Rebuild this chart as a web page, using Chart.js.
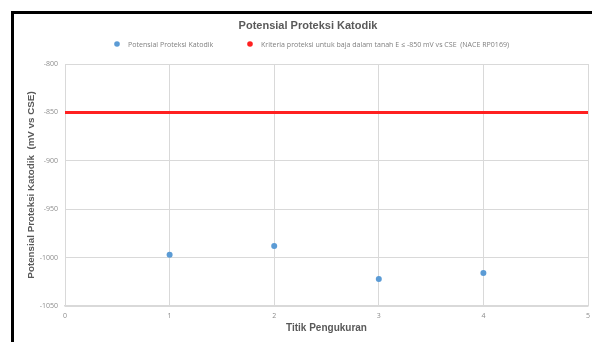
<!DOCTYPE html>
<html>
<head>
<meta charset="utf-8">
<script src="https://cdn.jsdelivr.net/npm/chart.js@4/dist/chart.umd.min.js"></script>
<style>
  html, body { margin: 0; padding: 0; background: #fff; overflow: hidden; }
  #wrap { position: relative; width: 592px; height: 342px; }
  #frame { position: absolute; left: 11px; top: 11px; width: 700px; height: 400px;
           border-left: 3px solid #000; border-top: 3px solid #000; pointer-events: none; }
  canvas { position: absolute; left: 0; top: 0; }
</style>
</head>
<body>
<div id="wrap">
  <canvas id="c" width="592" height="342"></canvas>
  <div id="frame"></div>
</div>
<script>
// Measurement points and measured potentials (mV vs CSE)
const titik = [1, 2, 3, 4];
const potensial = [-997, -988, -1022, -1016];

// Protection criterion line (NACE RP0169)
const kriteriaX = [0, 5];
const kriteriaY = [-850, -850];

// Axis ranges / tick steps
const xRange = [0, 5];
const yRange = [-1050, -800];
const yStep = 50;

const chartTitle = 'Potensial Proteksi Katodik';
const seriesLabels = [
  'Potensial Proteksi Katodik',
  'Kriteria proteksi untuk baja dalam tanah E \u2264 -850 mV vs CSE  (NACE RP0169)'
];
const xTitle = 'Titik Pengukuran';
const yTitle = 'Potensial Proteksi Katodik  (mV vs CSE)';

const colBlue = '#5b9bd5';
const colRed = '#ff2020';
const gray = '#595959';

const pointData = titik.map((x, i) => ({ x, y: potensial[i] }));
const lineData = kriteriaX.map((x, i) => ({ x, y: kriteriaY[i] }));

// Title and legend drawn at fixed spots above the plot
const headerPlugin = {
  id: 'header',
  afterDraw(chart) {
    const ctx = chart.ctx;
    ctx.save();
    ctx.fillStyle = gray;
    ctx.font = 'bold 11px "Liberation Sans", Arial, sans-serif';
    ctx.textAlign = 'center';
    ctx.textBaseline = 'middle';
    ctx.fillText(chartTitle, 308, 26);

    // legend
    const fam = '"Open Sans", sans-serif';
    ctx.font = '7px ' + fam;
    const w2raw = ctx.measureText(seriesLabels[1]).width;
    const fs = 7 * 248 / w2raw;
    ctx.font = fs.toFixed(2) + 'px ' + fam;
    ctx.textAlign = 'left';
    const y = 44;
    const colors = [colBlue, colRed];
    const dots = [117, 250];
    chart.data.datasets.forEach((ds, i) => {
      ctx.beginPath();
      ctx.fillStyle = colors[i];
      ctx.arc(dots[i], y, 2.8, 0, Math.PI * 2);
      ctx.fill();
      ctx.fillStyle = '#7f7f7f';
      ctx.fillText(ds.label, dots[i] + 11, y + 0.5);
    });
    ctx.restore();
  }
};

new Chart(document.getElementById('c'), {
  type: 'scatter',
  data: {
    datasets: [
      {
        label: seriesLabels[0],
        data: pointData,
        backgroundColor: colBlue,
        borderColor: colBlue,
        pointRadius: 3,
        pointBorderWidth: 0,
        showLine: false,
        order: 1
      },
      {
        label: seriesLabels[1],
        data: lineData,
        borderColor: colRed,
        backgroundColor: colRed,
        borderWidth: 3,
        pointRadius: 0,
        showLine: true,
        order: 2
      }
    ]
  },
  options: {
    responsive: false,
    animation: false,
    events: [],
    layout: { padding: { left: 0, right: -2, top: 64, bottom: 0 } },
    plugins: {
      legend: { display: false },
      title: { display: false },
      tooltip: { enabled: false }
    },
    scales: {
      x: {
        type: 'linear',
        min: xRange[0],
        max: xRange[1],
        ticks: {
          stepSize: 1,
          color: '#8c8c8c',
          font: { size: 7, family: '"Open Sans", sans-serif' },
          padding: 6,
          maxRotation: 0,
          callback: v => String(v)
        },
        grid: { color: '#d9d9d9', lineWidth: 1, drawTicks: false },
        border: { color: '#d9d9d9', width: 1.5 },
        title: {
          display: true,
          text: xTitle,
          color: gray,
          font: { size: 10, weight: 'bold', family: '"Liberation Sans", Arial, sans-serif' },
          padding: { top: 0, bottom: 8 }
        },
        afterFit(scale) {
          scale.height = 36;
          scale.paddingLeft = 0;
          scale.paddingRight = 0;
        }
      },
      y: {
        type: 'linear',
        min: yRange[0],
        max: yRange[1],
        ticks: {
          stepSize: yStep,
          color: '#8c8c8c',
          font: { size: 7, family: '"Open Sans", sans-serif' },
          padding: 7,
          callback: v => String(v)
        },
        grid: { color: '#d9d9d9', lineWidth: 1, drawTicks: false },
        border: { color: '#d9d9d9', width: 1 },
        title: {
          display: true,
          text: yTitle,
          color: gray,
          font: { size: 9.8, weight: 'bold', family: '"Liberation Sans", Arial, sans-serif' },
          padding: { top: 25, bottom: 0 }
        },
        afterFit(scale) {
          scale.width = 65;
          scale.paddingTop = 0;
          scale.paddingBottom = 0;
        }
      }
    }
  },
  plugins: [headerPlugin]
});
</script>
</body>
</html>
